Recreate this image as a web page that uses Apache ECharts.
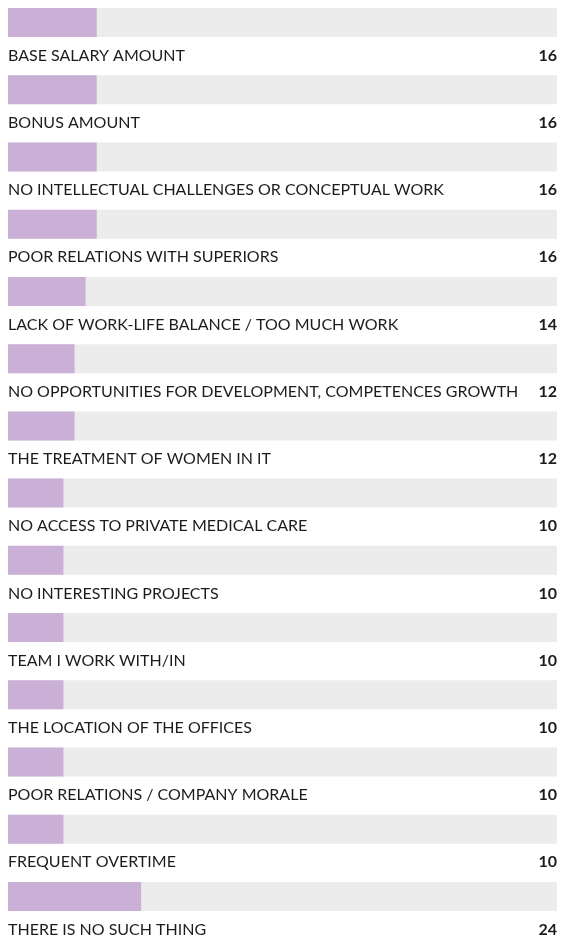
<!DOCTYPE html>
<html><head><meta charset="utf-8">
<script src="https://cdn.jsdelivr.net/npm/echarts@6/dist/echarts.min.js"></script>
<style>html,body{margin:0;padding:0;background:#fff}#c{width:561px;height:938px}</style>
</head><body><div id="c"></div>
<script>
const categories = [
  "BASE SALARY AMOUNT",
  "BONUS AMOUNT",
  "NO INTELLECTUAL CHALLENGES OR CONCEPTUAL WORK",
  "POOR RELATIONS WITH SUPERIORS",
  "LACK OF WORK-LIFE BALANCE / TOO MUCH WORK",
  "NO OPPORTUNITIES FOR DEVELOPMENT, COMPETENCES GROWTH",
  "THE TREATMENT OF WOMEN IN IT",
  "NO ACCESS TO PRIVATE MEDICAL CARE",
  "NO INTERESTING PROJECTS",
  "TEAM I WORK WITH/IN",
  "THE LOCATION OF THE OFFICES",
  "POOR RELATIONS / COMPANY MORALE",
  "FREQUENT OVERTIME",
  "THERE IS NO SUCH THING"
];
const values = [16, 16, 16, 16, 14, 12, 12, 10, 10, 10, 10, 10, 10, 24];
const trackMax = 99;

const FONT = "Lato";
const chart = echarts.init(document.getElementById('c'), null, {renderer: 'canvas'});
const full = categories.map(() => trackMax);
chart.setOption({
  animation: false,
  grid: {left: 8, right: 4, top: 22.5, bottom: 41.5},
  xAxis: {type: 'value', min: 0, max: trackMax, show: false},
  yAxis: {type: 'category', data: categories, inverse: true, show: false, boundaryGap: false},
  series: [
    {
      type: 'bar', data: full, barWidth: 29, silent: true, clip: false,
      itemStyle: {color: '#ececec'},
      label: {show: true, position: [0, 47.5], align: 'left', verticalAlign: 'middle',
        formatter: p => p.name, color: '#1c1c1c', fontFamily: FONT, fontSize: 16}
    },
    {
      type: 'bar', data: values, barWidth: 29, barGap: '-100%', silent: true, clip: false,
      itemStyle: {color: '#cab0d6'}
    },
    {
      type: 'bar', data: full, barWidth: 29, barGap: '-100%', silent: true, clip: false,
      itemStyle: {color: 'rgba(0,0,0,0)'},
      label: {show: true, position: ['100%', 47.5], align: 'right', verticalAlign: 'middle',
        formatter: p => String(values[p.dataIndex]), color: '#1c1c1c', fontFamily: FONT,
        fontSize: 16, fontWeight: 'bold'}
    }
  ]
});
</script></body></html>
